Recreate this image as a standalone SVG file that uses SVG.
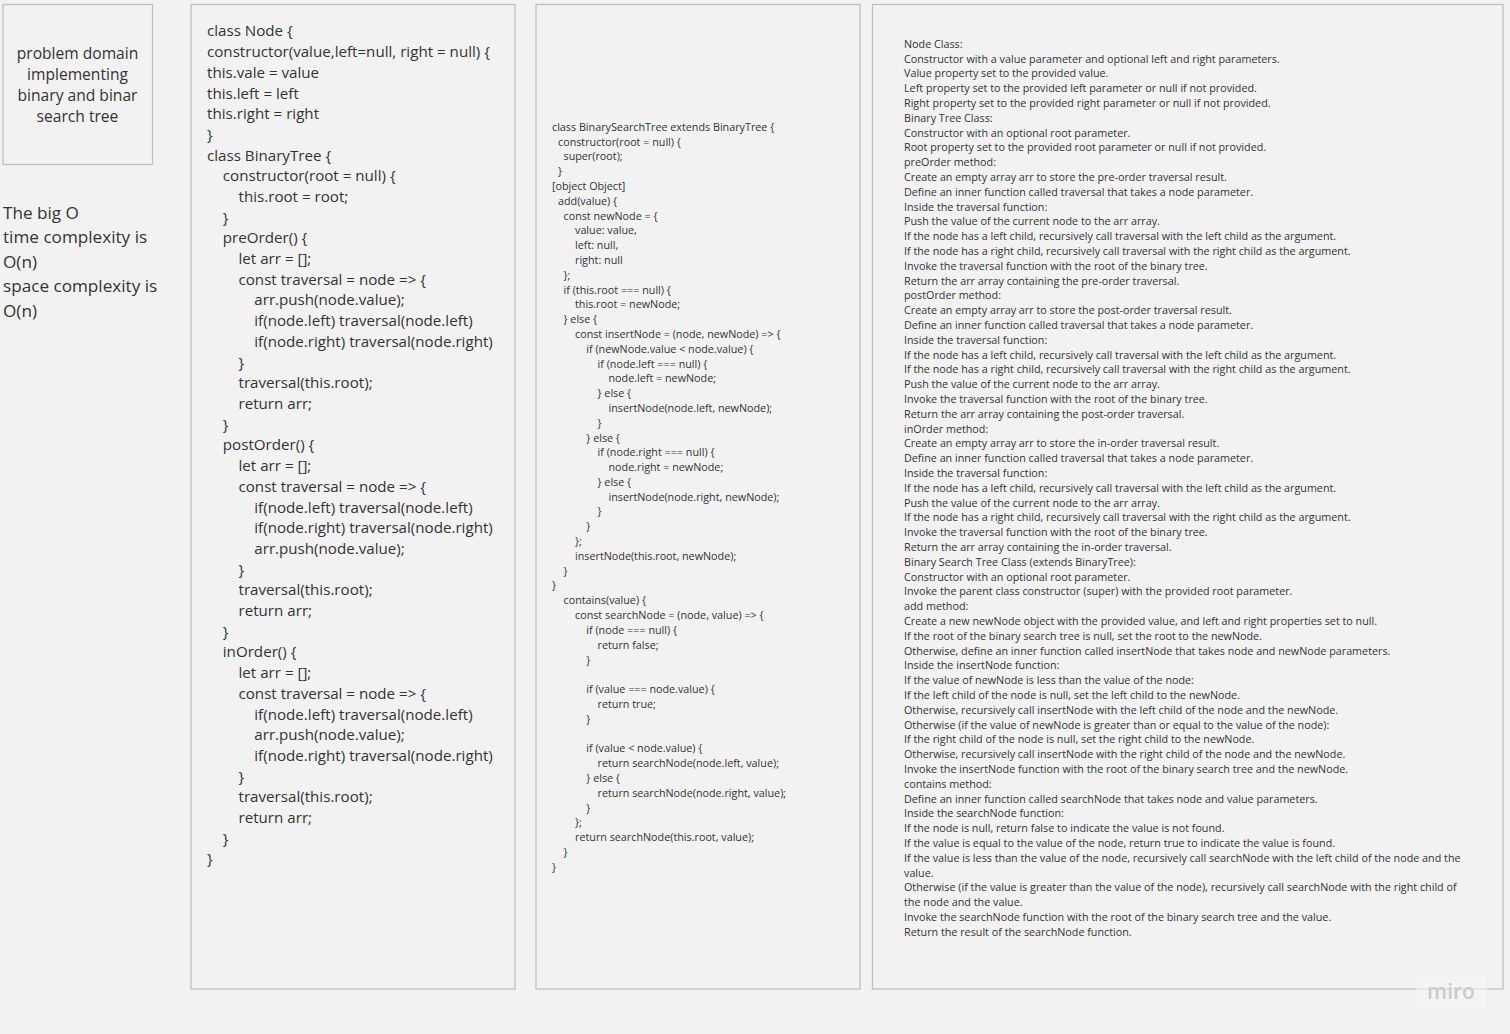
<svg xmlns="http://www.w3.org/2000/svg" width="1510" height="1034" viewBox="0 0 1510 1034">
<style>
text{font-family:"Open Sans","Noto Sans","DejaVu Sans",sans-serif;fill:#333}
.box{fill:#f2f2f2;stroke:#bfbfbf;stroke-width:1.3}
.t1{font-size:15.6px}
.t2{font-size:15.15px}
.t3{font-size:10.78px}
.t4{font-size:10.78px}
.big{font-size:17.15px}
</style>
<rect width="1510" height="1034" fill="#f2f2f2"/>
<g id="problem-domain">
<rect class="box" x="3" y="4.500" width="149.500" height="160"/>
<text class="t1" text-anchor="middle" x="77.500" y="58.500"><tspan x="77.500">problem domain</tspan><tspan x="77.500" dy="21.200">implementing</tspan><tspan x="77.500" dy="21.200">binary and binar</tspan><tspan x="77.500" dy="21.200">search tree</tspan></text>
</g>
<g id="big-o">
<text class="big" y="218.800"><tspan x="3">The big O</tspan><tspan x="3" dy="24.500">time complexity is</tspan><tspan x="3" dy="24.500">O(n)</tspan><tspan x="3" dy="24.500">space complexity is</tspan><tspan x="3" dy="24.500">O(n)</tspan></text>
</g>
<g id="binary-tree-code">
<rect class="box" x="191" y="4.500" width="324" height="984.500"/>
<text class="t2" y="36.400"><tspan x="207">class Node {</tspan><tspan x="207" dy="20.700">constructor(value,left=null, right = null) {</tspan><tspan x="207" dy="20.700">this.vale = value</tspan><tspan x="207" dy="20.700">this.left = left</tspan><tspan x="207" dy="20.700">this.right = right</tspan><tspan x="207" dy="20.700">}</tspan><tspan x="207" dy="20.700">class BinaryTree {</tspan><tspan x="222.800" dy="20.700">constructor(root = null) {</tspan><tspan x="238.500" dy="20.700">this.root = root;</tspan><tspan x="222.800" dy="20.700">}</tspan><tspan x="222.800" dy="20.700">preOrder() {</tspan><tspan x="238.500" dy="20.700">let arr = [];</tspan><tspan x="238.500" dy="20.700">const traversal = node =&gt; {</tspan><tspan x="254.300" dy="20.700">arr.push(node.value);</tspan><tspan x="254.300" dy="20.700">if(node.left) traversal(node.left)</tspan><tspan x="254.300" dy="20.700">if(node.right) traversal(node.right)</tspan><tspan x="238.500" dy="20.700">}</tspan><tspan x="238.500" dy="20.700">traversal(this.root);</tspan><tspan x="238.500" dy="20.700">return arr;</tspan><tspan x="222.800" dy="20.700">}</tspan><tspan x="222.800" dy="20.700">postOrder() {</tspan><tspan x="238.500" dy="20.700">let arr = [];</tspan><tspan x="238.500" dy="20.700">const traversal = node =&gt; {</tspan><tspan x="254.300" dy="20.700">if(node.left) traversal(node.left)</tspan><tspan x="254.300" dy="20.700">if(node.right) traversal(node.right)</tspan><tspan x="254.300" dy="20.700">arr.push(node.value);</tspan><tspan x="238.500" dy="20.700">}</tspan><tspan x="238.500" dy="20.700">traversal(this.root);</tspan><tspan x="238.500" dy="20.700">return arr;</tspan><tspan x="222.800" dy="20.700">}</tspan><tspan x="222.800" dy="20.700">inOrder() {</tspan><tspan x="238.500" dy="20.700">let arr = [];</tspan><tspan x="238.500" dy="20.700">const traversal = node =&gt; {</tspan><tspan x="254.300" dy="20.700">if(node.left) traversal(node.left)</tspan><tspan x="254.300" dy="20.700">arr.push(node.value);</tspan><tspan x="254.300" dy="20.700">if(node.right) traversal(node.right)</tspan><tspan x="238.500" dy="20.700">}</tspan><tspan x="238.500" dy="20.700">traversal(this.root);</tspan><tspan x="238.500" dy="20.700">return arr;</tspan><tspan x="222.800" dy="20.700">}</tspan><tspan x="207" dy="20.700">}</tspan></text>
</g>
<g id="bst-code">
<rect class="box" x="536" y="4.500" width="324" height="984.500"/>
<text class="t3" y="130.700"><tspan x="552">class BinarySearchTree extends BinaryTree {</tspan><tspan x="558" dy="14.800">constructor(root = null) {</tspan><tspan x="563.500" dy="14.800">super(root);</tspan><tspan x="558" dy="14.800">}</tspan><tspan x="552" dy="14.800">[object Object]</tspan><tspan x="558" dy="14.800">add(value) {</tspan><tspan x="563.500" dy="14.800">const newNode = {</tspan><tspan x="575" dy="14.800">value: value,</tspan><tspan x="575" dy="14.800">left: null,</tspan><tspan x="575" dy="14.800">right: null</tspan><tspan x="563.500" dy="14.800">};</tspan><tspan x="563.500" dy="14.800">if (this.root === null) {</tspan><tspan x="575" dy="14.800">this.root = newNode;</tspan><tspan x="563.500" dy="14.800">} else {</tspan><tspan x="575" dy="14.800">const insertNode = (node, newNode) =&gt; {</tspan><tspan x="586.300" dy="14.800">if (newNode.value &lt; node.value) {</tspan><tspan x="597.500" dy="14.800">if (node.left === null) {</tspan><tspan x="608.500" dy="14.800">node.left = newNode;</tspan><tspan x="597.500" dy="14.800">} else {</tspan><tspan x="608.500" dy="14.800">insertNode(node.left, newNode);</tspan><tspan x="597.500" dy="14.800">}</tspan><tspan x="586.300" dy="14.800">} else {</tspan><tspan x="597.500" dy="14.800">if (node.right === null) {</tspan><tspan x="608.500" dy="14.800">node.right = newNode;</tspan><tspan x="597.500" dy="14.800">} else {</tspan><tspan x="608.500" dy="14.800">insertNode(node.right, newNode);</tspan><tspan x="597.500" dy="14.800">}</tspan><tspan x="586.300" dy="14.800">}</tspan><tspan x="575" dy="14.800">};</tspan><tspan x="575" dy="14.800">insertNode(this.root, newNode);</tspan><tspan x="563.500" dy="14.800">}</tspan><tspan x="552" dy="14.800">}</tspan><tspan x="563.500" dy="14.800">contains(value) {</tspan><tspan x="575" dy="14.850">const searchNode = (node, value) =&gt; {</tspan><tspan x="586.300" dy="14.800">if (node === null) {</tspan><tspan x="597.500" dy="14.800">return false;</tspan><tspan x="586.300" dy="14.800">}</tspan><tspan x="586.300" dy="29.700">if (value === node.value) {</tspan><tspan x="597.500" dy="14.800">return true;</tspan><tspan x="586.300" dy="14.800">}</tspan><tspan x="586.300" dy="29.600">if (value &lt; node.value) {</tspan><tspan x="597.500" dy="14.800">return searchNode(node.left, value);</tspan><tspan x="586.300" dy="14.800">} else {</tspan><tspan x="597.500" dy="14.800">return searchNode(node.right, value);</tspan><tspan x="586.300" dy="14.800">}</tspan><tspan x="575" dy="14.800">};</tspan><tspan x="575" dy="14.800">return searchNode(this.root, value);</tspan><tspan x="563.500" dy="14.800">}</tspan><tspan x="552" dy="14.800">}</tspan></text>
</g>
<g id="explanation">
<rect class="box" x="872.500" y="4.500" width="630.500" height="984.500"/>
<text class="t4" y="47.800"><tspan x="904">Node Class:</tspan><tspan x="904" dy="14.800">Constructor with a value parameter and optional left and right parameters.</tspan><tspan x="904" dy="14.800">Value property set to the provided value.</tspan><tspan x="904" dy="14.800">Left property set to the provided left parameter or null if not provided.</tspan><tspan x="904" dy="14.800">Right property set to the provided right parameter or null if not provided.</tspan><tspan x="904" dy="14.800">Binary Tree Class:</tspan><tspan x="904" dy="14.800">Constructor with an optional root parameter.</tspan><tspan x="904" dy="14.800">Root property set to the provided root parameter or null if not provided.</tspan><tspan x="904" dy="14.800">preOrder method:</tspan><tspan x="904" dy="14.800">Create an empty array arr to store the pre-order traversal result.</tspan><tspan x="904" dy="14.800">Define an inner function called traversal that takes a node parameter.</tspan><tspan x="904" dy="14.800">Inside the traversal function:</tspan><tspan x="904" dy="14.800">Push the value of the current node to the arr array.</tspan><tspan x="904" dy="14.800">If the node has a left child, recursively call traversal with the left child as the argument.</tspan><tspan x="904" dy="14.800">If the node has a right child, recursively call traversal with the right child as the argument.</tspan><tspan x="904" dy="14.800">Invoke the traversal function with the root of the binary tree.</tspan><tspan x="904" dy="14.800">Return the arr array containing the pre-order traversal.</tspan><tspan x="904" dy="14.800">postOrder method:</tspan><tspan x="904" dy="14.800">Create an empty array arr to store the post-order traversal result.</tspan><tspan x="904" dy="14.800">Define an inner function called traversal that takes a node parameter.</tspan><tspan x="904" dy="14.800">Inside the traversal function:</tspan><tspan x="904" dy="14.800">If the node has a left child, recursively call traversal with the left child as the argument.</tspan><tspan x="904" dy="14.800">If the node has a right child, recursively call traversal with the right child as the argument.</tspan><tspan x="904" dy="14.800">Push the value of the current node to the arr array.</tspan><tspan x="904" dy="14.800">Invoke the traversal function with the root of the binary tree.</tspan><tspan x="904" dy="14.800">Return the arr array containing the post-order traversal.</tspan><tspan x="904" dy="14.800">inOrder method:</tspan><tspan x="904" dy="14.800">Create an empty array arr to store the in-order traversal result.</tspan><tspan x="904" dy="14.800">Define an inner function called traversal that takes a node parameter.</tspan><tspan x="904" dy="14.800">Inside the traversal function:</tspan><tspan x="904" dy="14.800">If the node has a left child, recursively call traversal with the left child as the argument.</tspan><tspan x="904" dy="14.800">Push the value of the current node to the arr array.</tspan><tspan x="904" dy="14.800">If the node has a right child, recursively call traversal with the right child as the argument.</tspan><tspan x="904" dy="14.800">Invoke the traversal function with the root of the binary tree.</tspan><tspan x="904" dy="14.800">Return the arr array containing the in-order traversal.</tspan><tspan x="904" dy="14.800">Binary Search Tree Class (extends BinaryTree):</tspan><tspan x="904" dy="14.800">Constructor with an optional root parameter.</tspan><tspan x="904" dy="14.800">Invoke the parent class constructor (super) with the provided root parameter.</tspan><tspan x="904" dy="14.800">add method:</tspan><tspan x="904" dy="14.800">Create a new newNode object with the provided value, and left and right properties set to null.</tspan><tspan x="904" dy="14.800">If the root of the binary search tree is null, set the root to the newNode.</tspan><tspan x="904" dy="14.800">Otherwise, define an inner function called insertNode that takes node and newNode parameters.</tspan><tspan x="904" dy="14.800">Inside the insertNode function:</tspan><tspan x="904" dy="14.800">If the value of newNode is less than the value of the node:</tspan><tspan x="904" dy="14.800">If the left child of the node is null, set the left child to the newNode.</tspan><tspan x="904" dy="14.800">Otherwise, recursively call insertNode with the left child of the node and the newNode.</tspan><tspan x="904" dy="14.800">Otherwise (if the value of newNode is greater than or equal to the value of the node):</tspan><tspan x="904" dy="14.800">If the right child of the node is null, set the right child to the newNode.</tspan><tspan x="904" dy="14.800">Otherwise, recursively call insertNode with the right child of the node and the newNode.</tspan><tspan x="904" dy="14.800">Invoke the insertNode function with the root of the binary search tree and the newNode.</tspan><tspan x="904" dy="14.800">contains method:</tspan><tspan x="904" dy="14.800">Define an inner function called searchNode that takes node and value parameters.</tspan><tspan x="904" dy="14.800">Inside the searchNode function:</tspan><tspan x="904" dy="14.800">If the node is null, return false to indicate the value is not found.</tspan><tspan x="904" dy="14.800">If the value is equal to the value of the node, return true to indicate the value is found.</tspan><tspan x="904" dy="14.800">If the value is less than the value of the node, recursively call searchNode with the left child of the node and the</tspan><tspan x="904" dy="14.800">value.</tspan><tspan x="904" dy="14.800">Otherwise (if the value is greater than the value of the node), recursively call searchNode with the right child of</tspan><tspan x="904" dy="14.800">the node and the value.</tspan><tspan x="904" dy="14.800">Invoke the searchNode function with the root of the binary search tree and the value.</tspan><tspan x="904" dy="14.800">Return the result of the searchNode function.</tspan></text>
</g>
<g id="watermark">
<rect x="1416" y="973" width="71" height="37" fill="#f5f5f5" fill-opacity="0.6"/>
<text x="1451" y="999" text-anchor="middle" style="font-family:'Open Sans',sans-serif;font-size:21px;font-weight:600;fill:#c9c9d6">miro</text>
</g>
</svg>
